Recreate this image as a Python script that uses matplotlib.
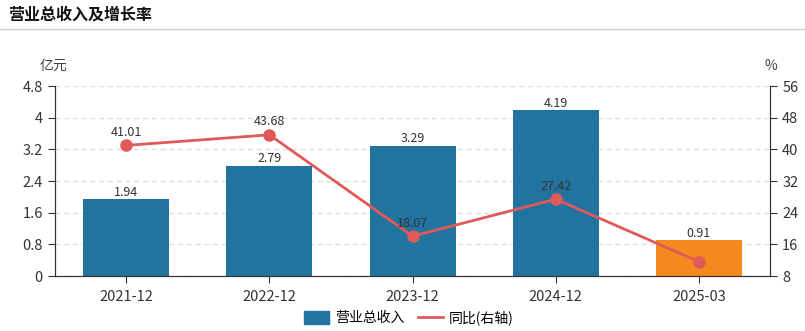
import numpy as np
import matplotlib.pyplot as plt

plt.rcParams['font.family'] = ['Noto Sans CJK SC', 'DejaVu Sans']

# 营业总收入(亿元) 与 同比增长率(%)
periods = ['2021-12', '2022-12', '2023-12', '2024-12', '2025-03']
revenue = [1.94, 2.79, 3.29, 4.19, 0.91]
growth = [41.01, 43.68, 18.07, 27.42, 11.65]
growth_labels = ['41.01', '43.68', '18.07', '27.42', '']

bar_colors = ['#22739f'] * 4 + ['#f5891e']
line_color = '#e05a5a'
axis_color = '#333333'

fig = plt.figure(figsize=(8.05, 3.31), dpi=100)
fig.text(0.01, 0.955, '营业总收入及增长率', fontsize=11.5, fontweight='bold',
         va='center', ha='left', color='#111111')
fig.add_artist(plt.Line2D([0, 1], [0.912, 0.912], color='#cccccc', lw=1))

ax = fig.add_axes([0.068, 0.166, 0.889, 0.574])
x = np.arange(len(periods))
bars = ax.bar(x, revenue, width=0.6, color=bar_colors, zorder=2)
for xi, v in zip(x, revenue):
    ax.text(xi, v + 0.01, f'{v:.2f}', ha='center', va='bottom', fontsize=9, color='#333333')

ax.set_xlim(-0.5, len(periods) - 0.5)
ax.set_ylim(0, 4.8)
ax.set_yticks(np.arange(0, 4.81, 0.8))
ax.set_yticklabels(['0', '0.8', '1.6', '2.4', '3.2', '4', '4.8'])
ax.set_xticks(x)
ax.set_xticklabels(periods)
ax.grid(axis='y', color='#dddddd', linestyle=(0, (4, 3)), lw=0.9, zorder=0)
ax.spines['top'].set_visible(False)
for s in ['left', 'right', 'bottom']:
    ax.spines[s].set_color(axis_color)
ax.tick_params(colors=axis_color, labelsize=10.5, length=5)
ax.tick_params(axis='x', pad=5)

ax2 = ax.twinx()
ax2.set_ylim(8, 56)
ax2.set_yticks(np.arange(8, 57, 8))
ax2.plot(x, growth, color=line_color, lw=2, marker='o', markersize=8, zorder=3)
for xi, v, lab in zip(x, growth, growth_labels):
    if lab:
        ax2.text(xi, v + 1.6, lab, ha='center', va='bottom', fontsize=9, color='#333333')
ax2.spines['top'].set_visible(False)
for s in ['left', 'right', 'bottom']:
    ax2.spines[s].set_color(axis_color)
ax2.tick_params(colors=axis_color, labelsize=10.5, length=5)

fig.text(0.067, 0.80, '亿元', fontsize=10, color='#444444', ha='center', va='center')
fig.text(0.957, 0.80, '%', fontsize=10, color='#444444', ha='center', va='center')

handles = [plt.Rectangle((0, 0), 1, 1, color='#22739f'),
           plt.Line2D([0], [0], color=line_color, lw=2)]
fig.legend(handles, ['营业总收入', '同比(右轴)'], loc='center', bbox_to_anchor=(0.508, 0.04),
           ncol=2, frameon=False, fontsize=10, handlelength=1.8, handleheight=1.0,
           columnspacing=1.0, handletextpad=0.4)

fig.savefig('out.png', dpi=100)
